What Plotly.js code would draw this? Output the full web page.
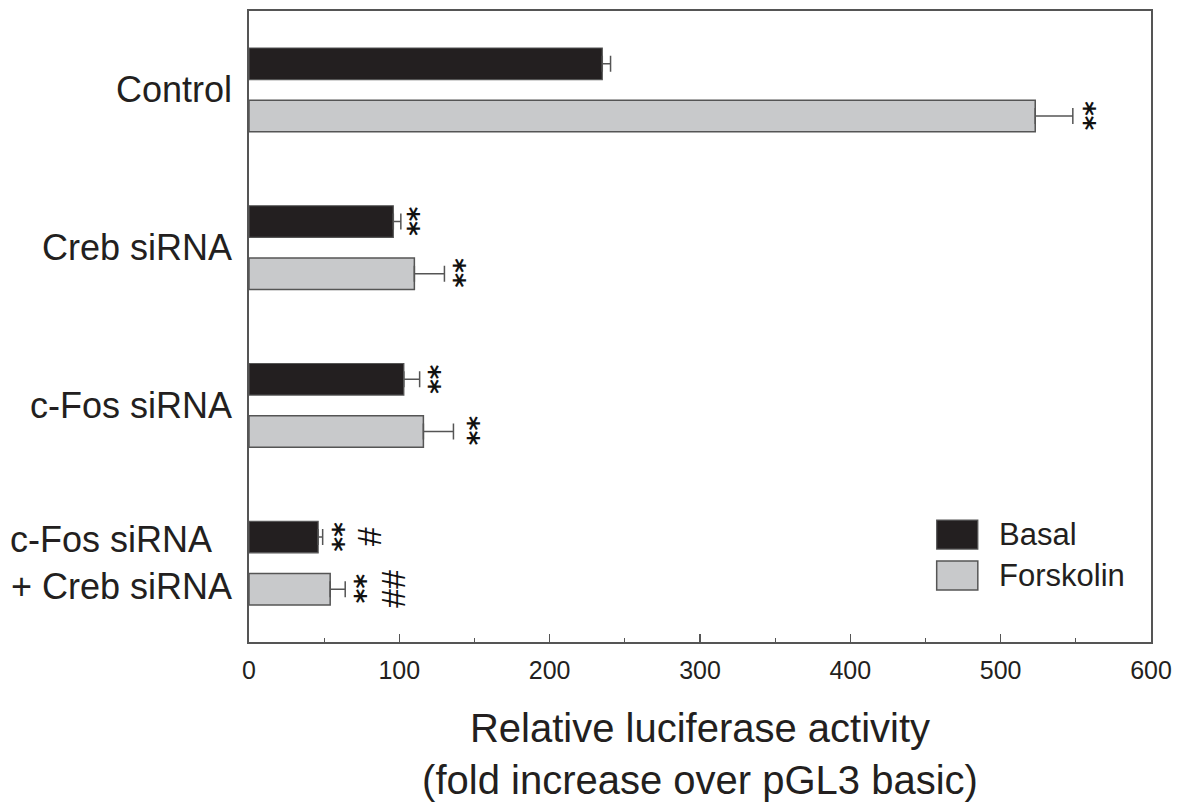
<!DOCTYPE html>
<html>
<head>
<meta charset="utf-8">
<script src="https://cdn.plot.ly/plotly-3.0.1.min.js"></script>
<style>html,body{margin:0;padding:0;background:#fff;}#chart{width:1186px;height:802px;}</style>
</head>
<body>
<div id="chart"></div>
<script>
// ---- data ----
const categories = ['Control', 'Creb siRNA', 'c-Fos siRNA', 'c-Fos siRNA\u00a0\u00a0<br>+ Creb siRNA'];
const seriesNames = ['Basal', 'Forskolin'];
const basal = [235, 96, 103, 46];
const basalErr = [5.5, 5, 10.5, 3];
const forskolin = [523, 110, 116, 54];
const forskolinErr = [25, 20, 20, 10];
const xTicks = [0, 100, 200, 300, 400, 500, 600];
// significance marks per category
const basalStars = ['', '**', '**', '**'];
const basalHash = ['', '', '', '#'];
const forskStars = ['**', '**', '**', '**'];
const forskHash = ['', '', '', '##'];

const basalColor = '#231f20';
const forskColor = '#c8c9cb';
const edge = '#555555';

const traces = [
  {
    type: 'bar', orientation: 'h', name: seriesNames[0],
    y: categories, x: basal,
    marker: {color: basalColor, line: {color: edge, width: 1.2}},
    error_x: {type: 'data', array: basalErr, arrayminus: basalErr.map(() => 0), symmetric: false,
              color: edge, thickness: 1.5, width: 8},
    showlegend: false
  },
  {
    type: 'bar', orientation: 'h', name: seriesNames[1],
    y: categories, x: forskolin,
    marker: {color: forskColor, line: {color: edge, width: 1.5}},
    error_x: {type: 'data', array: forskolinErr, arrayminus: forskolinErr.map(() => 0), symmetric: false,
              color: edge, thickness: 1.5, width: 8},
    showlegend: false
  }
];

// annotation offsets (pixels from error-bar end)
const starShiftB = [0, 8, 10, 11];
const starShiftF = [11, 10, 15, 11];
const hashShiftB = [0, 0, 0, 47];
const hashShiftF = [0, 0, 0, 49];
const slot = 0.331;
const starFont = {family: 'DejaVu Sans', size: 28, color: '#111111', weight: 'bold'};
const hashFont = {family: 'Liberation Sans', size: 34, color: '#111111'};
const annotations = [];
for (let i = 0; i < categories.length; i++) {
  const yb = i - slot / 2, yf = i + slot / 2;
  if (basalStars[i]) annotations.push({x: basal[i] + basalErr[i], y: yb, xref: 'x', yref: 'y', text: basalStars[i],
    showarrow: false, textangle: 90, xshift: starShiftB[i], xanchor: 'center', yanchor: 'middle', font: starFont});
  if (forskStars[i]) annotations.push({x: forskolin[i] + forskolinErr[i], y: yf, xref: 'x', yref: 'y', text: forskStars[i],
    showarrow: false, textangle: 90, xshift: starShiftF[i], xanchor: 'center', yanchor: 'middle', font: starFont});
  if (basalHash[i]) annotations.push({x: basal[i] + basalErr[i], y: yb, xref: 'x', yref: 'y', text: basalHash[i],
    showarrow: false, textangle: 90, xshift: hashShiftB[i], xanchor: 'center', yanchor: 'middle', font: hashFont});
  if (forskHash[i]) annotations.push({x: forskolin[i] + forskolinErr[i], y: yf, xref: 'x', yref: 'y', text: forskHash[i],
    showarrow: false, textangle: 90, xshift: hashShiftF[i], xanchor: 'center', yanchor: 'middle', font: hashFont});
}
// custom legend text
const legendY = [0.1703, 0.1053];
seriesNames.forEach((n, k) => annotations.push({
  x: 0.829, y: legendY[k], xref: 'paper', yref: 'paper', text: n, showarrow: false,
  xanchor: 'left', yanchor: 'middle', font: {family: 'Liberation Sans, Arial', size: 31, color: '#231f20'}
}));

const shapes = [
  {type: 'rect', xref: 'paper', yref: 'paper', x0: 0.7624, x1: 0.808, y0: 0.1473, y1: 0.1932,
   fillcolor: basalColor, line: {color: edge, width: 1.2}},
  {type: 'rect', xref: 'paper', yref: 'paper', x0: 0.7624, x1: 0.808, y0: 0.0824, y1: 0.1283,
   fillcolor: forskColor, line: {color: edge, width: 1.5}}
];

const layout = {
  width: 1186, height: 802,
  margin: {l: 249, r: 35, t: 11, b: 160},
  paper_bgcolor: '#ffffff', plot_bgcolor: '#ffffff',
  font: {family: 'Liberation Sans, Arial, sans-serif', color: '#231f20'},
  barmode: 'group', bargap: 0.338, bargroupgap: 0.396,
  showlegend: false,
  xaxis: {
    range: [0, 600], tickvals: xTicks, ticktext: xTicks.map(String),
    ticks: 'inside', ticklen: 8, tickwidth: 1.3, tickcolor: edge,
    minor: {dtick: 50, ticks: 'inside', ticklen: 4, tickwidth: 1.3, tickcolor: edge, showgrid: false},
    showgrid: false, zeroline: false,
    showline: true, linecolor: edge, linewidth: 1.8, mirror: true,
    tickfont: {family: 'Liberation Sans, Arial', size: 25, color: '#231f20'},
    ticklabelstandoff: 5,
    title: {text: 'Relative luciferase activity<br>(fold increase over pGL3 basic)',
            font: {family: 'Liberation Sans, Arial', size: 40, color: '#231f20'}, standoff: 40}
  },
  yaxis: {
    type: 'category', autorange: 'reversed',
    showgrid: false, zeroline: false, ticks: '',
    showline: true, linecolor: edge, linewidth: 1.8, mirror: true,
    tickfont: {family: 'Liberation Sans, Arial', size: 36, color: '#231f20'},
    ticklabelstandoff: 8
  },
  annotations: annotations,
  shapes: shapes
};

Plotly.newPlot('chart', traces, layout, {displayModeBar: false, staticPlot: true});
</script>
</body>
</html>
